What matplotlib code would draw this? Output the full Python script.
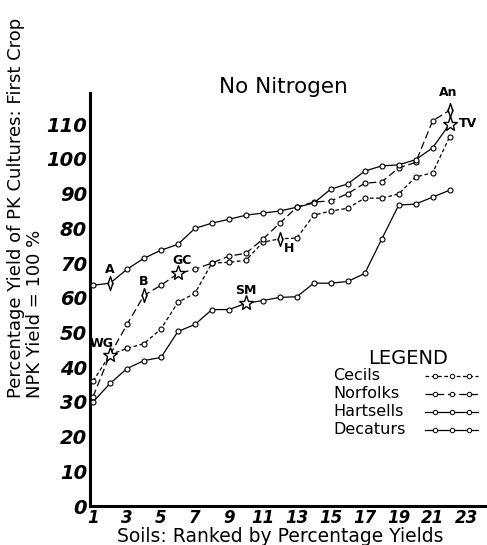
import matplotlib
matplotlib.use("Agg")
import matplotlib.pyplot as plt
from matplotlib.lines import Line2D

# soils ranked by percentage yield, one value per rank
ranks = list(range(1, 23))
cecils = [36.0, 43.6, 45.4, 46.8, 51.0, 58.7, 61.3, 70.0, 70.2, 70.8, 76.0,
          77.0, 77.2, 83.8, 85.0, 85.8, 88.7, 88.7, 89.9, 94.8, 96.0, 106.4]
norfolks = [31.5, 43.6, 52.3, 60.7, 63.6, 67.0, 68.2, 70.0, 72.0, 72.8, 76.9,
            81.5, 86.1, 87.6, 87.9, 90.0, 93.0, 93.4, 97.4, 99.0, 111.0, 114.0]
hartsells = [30.0, 35.3, 39.6, 41.9, 42.8, 50.3, 52.3, 56.6, 56.6, 58.4, 59.2,
             60.1, 60.3, 64.2, 64.2, 64.7, 67.0, 76.9, 86.7, 87.0, 89.0, 91.0]
decaturs = [63.6, 64.2, 68.2, 71.4, 73.7, 75.4, 80.0, 81.5, 82.6, 83.8, 84.4,
            85.0, 86.1, 87.3, 91.3, 92.8, 96.5, 98.0, 98.3, 99.8, 103.2, 110.1]

series_names = ["Cecils", "Norfolks", "Hartsells", "Decaturs"]
series_values = [cecils, norfolks, hartsells, decaturs]

# individual soils singled out on the curves: (label, series, rank)
star_soils = [("WG", "Cecils", 2), ("GC", "Norfolks", 6),
              ("SM", "Hartsells", 10), ("TV", "Decaturs", 22)]
lens_soils = [("A", "Decaturs", 2), ("B", "Norfolks", 4),
              ("H", "Cecils", 12), ("An", "Norfolks", 22)]

y_ticks = list(range(0, 111, 10))
x_ticks = list(range(1, 24, 2))

# styles
LINESTYLES = {
    "Cecils": (0, (3, 2)),
    "Norfolks": (0, (6, 3)),
    "Hartsells": "-",
    "Decaturs": "-",
}
LABEL_OFFSETS = {  # points, relative to the mark
    "WG": (-6, 8), "GC": (3, 9), "SM": (0, 9), "TV": (13, 0),
    "A": (0, 10), "B": (0, 10), "H": (7, -7), "An": (-1, 13),
}
LENS = [(0, 1), (0.32, 0), (0, -1), (-0.32, 0), (0, 1)]
HAND = dict(family="DejaVu Sans")
W, H = 487, 545


def fx(px):
    return px / W


def fy(py):
    return 1 - py / H


fig = plt.figure(figsize=(W / 100, H / 100), dpi=100)
ax = fig.add_axes([fx(90), fy(506), 397 / W, 413 / H])

lookup = dict(zip(series_names, series_values))
for name, vals in zip(series_names, series_values):
    ax.plot(ranks, vals, color="black", lw=0.9, ls=LINESTYLES[name],
            marker="o", ms=3.6, mfc="white", mec="black", mew=0.8, zorder=3)

for lab, name, r in star_soils:
    y = lookup[name][r - 1]
    ax.plot(r, y, marker="*", ms=11, mfc="white", mec="black", mew=1.0,
            ls="none", zorder=4)
    ax.annotate(lab, (r, y), xytext=LABEL_OFFSETS[lab], textcoords="offset points",
                ha="center", va="center", fontsize=9, fontweight="bold", **HAND)

for lab, name, r in lens_soils:
    y = lookup[name][r - 1]
    ax.plot(r, y, marker=LENS, ms=10, mfc="white", mec="black", mew=1.0,
            ls="none", zorder=4)
    ax.annotate(lab, (r, y), xytext=LABEL_OFFSETS[lab], textcoords="offset points",
                ha="center", va="center", fontsize=9, fontweight="bold", **HAND)

ax.set_xlim(0.82, 24.2)
ax.set_ylim(0, 119)
ax.set_xticks(x_ticks)
ax.set_yticks(y_ticks)
ax.set_xticklabels([str(t) for t in x_ticks], fontsize=12, fontweight="bold",
                   fontstyle="italic", **HAND)
ax.set_yticklabels([str(t) for t in y_ticks], fontsize=14, fontweight="bold",
                   fontstyle="italic", **HAND)
ax.tick_params(length=0, pad=2)
for side in ("top", "right"):
    ax.spines[side].set_visible(False)
for side in ("left", "bottom"):
    ax.spines[side].set_linewidth(2.2)

ax.set_xlabel("Soils: Ranked by Percentage Yields", fontsize=13.5, **HAND)
ax.xaxis.set_label_coords(0.48, -0.05)

fig.text(0.052, fy(398),
         "Percentage Yield of PK Cultures: First Crop\nNPK Yield = 100 %",
         rotation=90, ha="center", va="bottom", multialignment="left",
         fontsize=13, linespacing=1.05, **HAND)

fig.text(fx(283), fy(87), "No Nitrogen", ha="center", va="center",
         fontsize=15.5, **HAND)

# hand-drawn style legend: text on the left, line samples on the right
fig.text(fx(408), fy(359), "LEGEND", ha="center", va="center", fontsize=14, **HAND)
legend_rows = [376, 394, 412, 430]
for name, row in zip(series_names, legend_rows):
    fig.text(fx(333), fy(row), name, ha="left", va="center", fontsize=11.5, **HAND)
    sample = Line2D([fx(425), fx(435), fx(452), fx(469), fx(478)], [fy(row)] * 5,
                    transform=fig.transFigure, color="black", lw=0.9,
                    ls=LINESTYLES[name], marker="o", markevery=[1, 2, 3],
                    ms=3.2, mfc="white", mec="black", mew=0.7)
    fig.add_artist(sample)

fig.savefig("out.png", dpi=100)
